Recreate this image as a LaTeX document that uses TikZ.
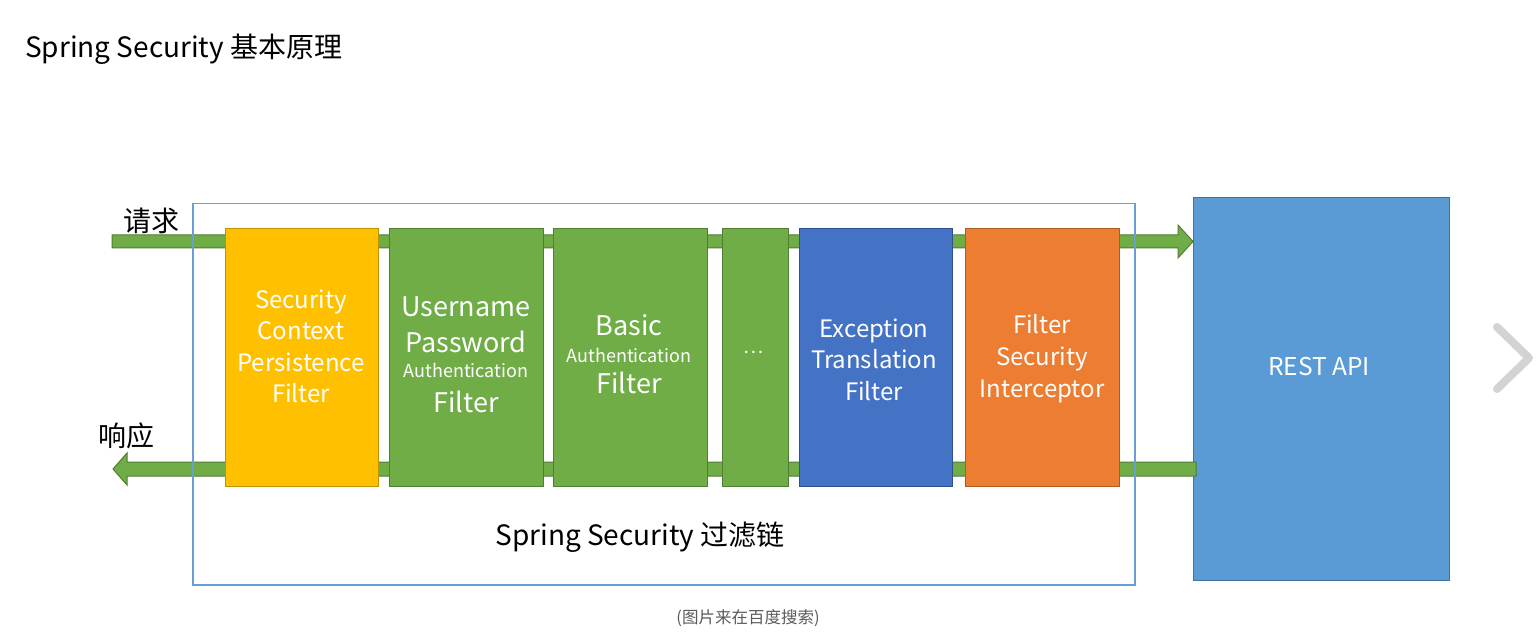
\documentclass[tikz,border=0pt]{standalone}
\usepackage{fontspec}
\setmainfont{Noto Sans CJK SC}
\newcommand\fsz[1]{\fontsize{#1}{#1}\selectfont}
\definecolor{cYel}{HTML}{FFC000}
\definecolor{cYelD}{HTML}{BF9000}
\definecolor{cGrn}{HTML}{70AD47}
\definecolor{cGrnD}{HTML}{507E32}
\definecolor{cBlu}{HTML}{4472C4}
\definecolor{cBluD}{HTML}{2F528F}
\definecolor{cOrg}{HTML}{ED7D31}
\definecolor{cOrgD}{HTML}{AE5A21}
\definecolor{cRest}{HTML}{5B9BD5}
\definecolor{cRestD}{HTML}{41719C}
\definecolor{cOut}{HTML}{6A9FD4}
\definecolor{cNote}{HTML}{5A5A5A}
\definecolor{cChev}{HTML}{D3D3D3}
\begin{document}
\begin{tikzpicture}[x=1pt,y=-1pt,
  filt/.style={draw, line width=1.3pt, minimum height=258pt, anchor=north west, inner sep=0pt},
  arr/.style={fill=cGrn, draw=cGrnD, line width=1pt, line join=miter},
  wt/.style={text=white, anchor=base, inner sep=0pt},
  bk/.style={text=black, inner sep=0pt}]
\path[use as bounding box] (0,0) rectangle (1538,636);

% title
\node[bk, anchor=west, font=\fsz{28}] (title) at (25,49) {Spring Security 基本原理};

% REST API box
\node[filt, fill=cRest, draw=cRestD, minimum width=256pt, minimum height=383pt] (rest) at (1193,197) {};

% arrows
\coordinate (reqS) at (112,241.5);
\coordinate (reqE) at (rest.west |- reqS);
\filldraw[arr] ([yshift=6.5pt]reqS) -- ([xshift=-15pt,yshift=6.5pt]reqE) -- ([xshift=-15pt,yshift=16.5pt]reqE) -- (reqE)
  -- ([xshift=-15pt,yshift=-16.5pt]reqE) -- ([xshift=-15pt,yshift=-6.5pt]reqE) -- ([yshift=-6.5pt]reqS) -- cycle;
\coordinate (resY) at (0,469);
\coordinate (resS) at ([xshift=3pt]rest.west |- resY);
\coordinate (resE) at (113,469);
\filldraw[arr] ([yshift=7pt]resS) -- ([xshift=14pt,yshift=7pt]resE) -- ([xshift=14pt,yshift=16pt]resE) -- (resE)
  -- ([xshift=14pt,yshift=-16pt]resE) -- ([xshift=14pt,yshift=-7pt]resE) -- ([yshift=-7pt]resS) -- cycle;

\node[bk, font=\fsz{28}] (req) at (151,221) {请求};
\node[bk, font=\fsz{28}] (resp) at (126,436) {响应};

% chain box
\node[draw=cOut, line width=1.5pt, minimum width=942pt, minimum height=381pt, anchor=north west, inner sep=0pt] (chain) at (192,203) {};
\node[bk, font=\fsz{28}] (chainlbl) at (640,537) {Spring Security 过滤链};

% filters
\node[filt, fill=cYel, draw=cYelD, minimum width=153pt] (scp) at (225,228) {};
\node[filt, fill=cGrn, draw=cGrnD, minimum width=154pt] (upa) at (389,228) {};
\node[filt, fill=cGrn, draw=cGrnD, minimum width=154pt] (baf) at (553,228) {};
\node[filt, fill=cGrn, draw=cGrnD, minimum width=66pt] (dots) at (722,228) {};
\node[filt, fill=cBlu, draw=cBluD, minimum width=153pt] (etf) at (799,228) {};
\node[filt, fill=cOrg, draw=cOrgD, minimum width=154pt] (fsi) at (965,228) {};

% filter texts
\node[wt, font=\fsz{24}] (scp1) at (301,308) {Security};
\node[wt, font=\fsz{24}] (scp2) at (301,339.5) {Context};
\node[wt, font=\fsz{24}] (scp3) at (301,371) {Persistence};
\node[wt, font=\fsz{24}] (scp4) at (301,402.5) {Filter};

\node[wt, font=\fsz{27}] (upa1) at (466,316) {Username};
\node[wt, font=\fsz{27}] (upa2) at (466,352) {Password};
\node[wt, font=\fsz{18}] (upa3) at (466,377) {Authentication};
\node[wt, font=\fsz{27}] (upa4) at (466,412) {Filter};

\node[wt, font=\fsz{27}] (baf1) at (629,335) {Basic};
\node[wt, font=\fsz{18}] (baf2) at (629,362) {Authentication};
\node[wt, font=\fsz{27}] (baf3) at (629,393) {Filter};

\node[text=white, inner sep=0pt, font=\fsz{19}] (dots1) at (754,352) {…};

\node[wt, font=\fsz{24}] (etf1) at (874,337) {Exception};
\node[wt, font=\fsz{24}] (etf2) at (874,368.5) {Translation};
\node[wt, font=\fsz{24}] (etf3) at (874,400) {Filter};

\node[wt, font=\fsz{24}] (fsi1) at (1042,333) {Filter};
\node[wt, font=\fsz{24}] (fsi2) at (1042,365) {Security};
\node[wt, font=\fsz{24}] (fsi3) at (1042,397) {Interceptor};

\node[wt, font=\fsz{24.5}] (rest1) at (1319,375) {REST API};

% note
\node[text=cNote, inner sep=0pt, font=\fsz{16.5}] (note) at (748,618) {(图片来在百度搜索)};

% chevron
\coordinate (chA) at (1497,327);
\coordinate (chB) at (1529,358);
\coordinate (chC) at (1497,389);
\draw[cChev, line width=8pt, line cap=round, line join=round] (chA) -- (chB) -- (chC);
\end{tikzpicture}
\end{document}
